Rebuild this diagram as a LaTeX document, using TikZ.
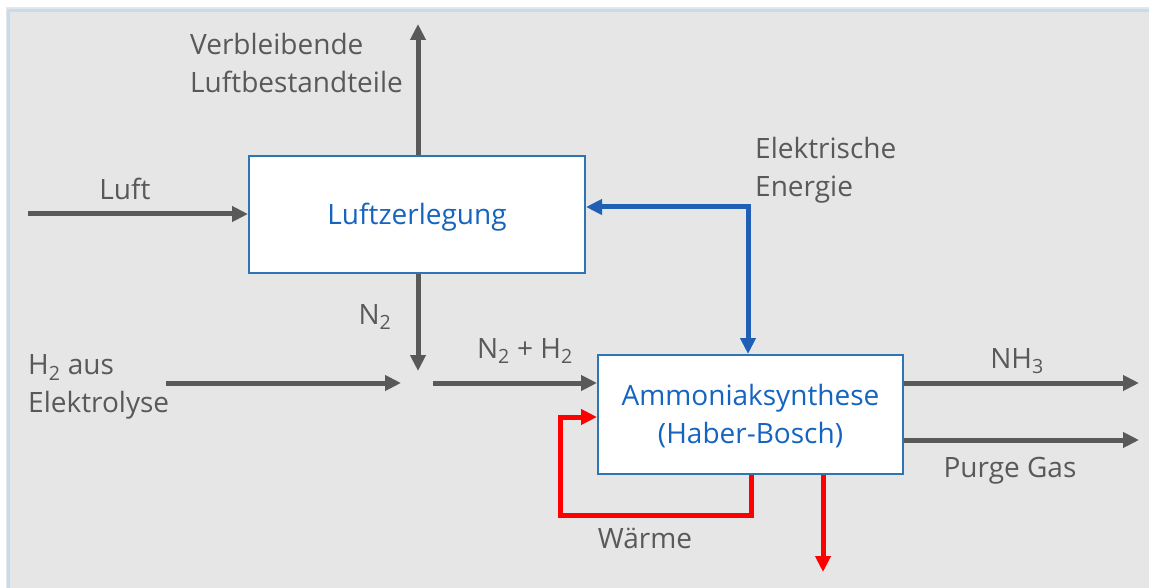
\documentclass[tikz,border=0pt]{standalone}
\usepackage{fontspec}
\setmainfont{Open Sans}
\usetikzlibrary{arrows.meta}
\definecolor{bggray}{HTML}{E6E6E6}
\definecolor{edgeblue}{HTML}{C5DCF0}
\definecolor{txtgray}{HTML}{595959}
\definecolor{boxblue}{HTML}{2E75B6}
\definecolor{flowblue}{HTML}{1F5FB5}
\definecolor{txtblue}{HTML}{1565C0}
\definecolor{heatred}{HTML}{FF0000}
\tikzset{
  procbox/.style={draw=boxblue,line width=2pt,fill=white,text=txtblue,align=center,inner sep=0pt},
  lbl/.style={text=txtgray,inner sep=0pt,align=left},
  flow/.style={draw=txtgray,line width=5pt,-{Triangle[length=16pt,width=15pt]}},
  eflow/.style={draw=flowblue,line width=5pt,-{Triangle[length=16pt,width=15pt]}},
  hflow/.style={draw=heatred,line width=5pt,-{Triangle[length=16pt,width=15pt]}},
}
\begin{document}
\begin{tikzpicture}[x=1pt,y=-1pt,font=\fontsize{28}{37.5}\selectfont]
\useasboundingbox (0,0) rectangle (1149,588);
\fill[white] (0,0) rectangle (1149,588);
\fill[bggray] (6,7) rectangle (1149,588);
\fill[edgeblue] (7,9.5) rectangle (1149,12);
\fill[edgeblue] (7,9.5) rectangle (9.5,588);

\node[procbox,minimum width=336pt,minimum height=117pt] (lz) at (417,214.5) {\raisebox{-3pt}[\height][\depth]{Luftzerlegung}};
\node[procbox,minimum width=305pt,minimum height=119pt] (as) at (750.5,414.5) {\raisebox{-2.5pt}[\height][\depth]{\begin{tabular}{@{}c@{}}Ammoniaksynthese\\(Haber-Bosch)\end{tabular}}};

% free ends
\coordinate (topEnd) at (418,24);
\coordinate (luftStart) at (28,214);
\coordinate (mix) at (418,371);
\coordinate (h2Start) at (166,383);
\coordinate (h2End) at (401,383);
\coordinate (mixOut) at (433,383);
\coordinate (nh3End) at (1139,383);
\coordinate (purgeEnd) at (1139,440);
\coordinate (eCorner) at (748,207);
\coordinate (heatEnd) at (823,572);

\draw[flow] (lz.north -| topEnd) -- (topEnd);
\draw[flow] (luftStart) -- (lz.west |- luftStart);
\draw[flow] (lz.south -| mix) -- (mix);
\draw[flow] (h2Start) -- (h2End);
\draw[flow] (mixOut) -- (as.west |- mixOut);
\draw[flow] (as.east |- nh3End) -- (nh3End);
\draw[flow] (as.east |- purgeEnd) -- (purgeEnd);

\draw[eflow] (eCorner) -- (lz.east |- eCorner);
\draw[eflow] (eCorner) -- (as.north -| eCorner);
\draw[draw=flowblue,line width=5pt] ([xshift=-2.5pt]eCorner) -- ([xshift=2.5pt]eCorner);

\draw[hflow] ([xshift=1pt]as.south) -- ++(0,40) -| (560,417) -- (as.west |- 0,417);
\draw[hflow] (as.south -| heatEnd) -- (heatEnd);

\node[lbl,anchor=west] (verb) at (190,63) {Verbleibende\\Luftbestandteile};
\node[lbl,anchor=base] (luft) at (125,200) {Luft};
\node[lbl,anchor=west] (elek) at (755,170) {Elektrische\\Energie};
\node[lbl,anchor=base] (n2) at (375,324) {N\textsubscript{2}};
\node[lbl,anchor=west] (h2) at (28,387) {H\textsubscript{2} aus\\Elektrolyse};
\node[lbl,anchor=base] (n2h2) at (525,358) {N\textsubscript{2} + H\textsubscript{2}};
\node[lbl,anchor=base] (nh3) at (1017,368) {NH\textsubscript{3}};
\node[lbl,anchor=base] (purge) at (1010,477) {Purge Gas};
\node[lbl,anchor=base] (waerme) at (645,548) {Wärme};
\end{tikzpicture}
\end{document}
